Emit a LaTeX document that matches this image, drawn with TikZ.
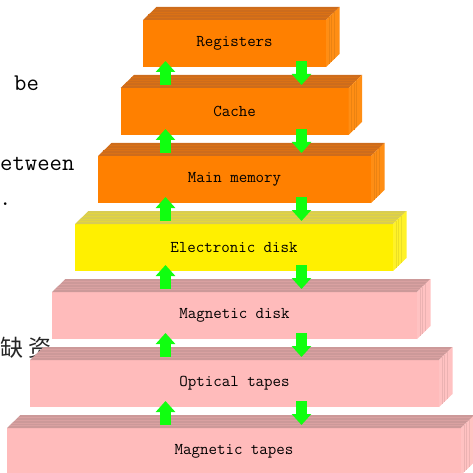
\documentclass[tikz,border=0pt]{standalone}
\usepackage{fontspec}
\newfontfamily\cjkfont{Noto Sans CJK SC}
\usetikzlibrary{arrows.meta,calc}
\definecolor{orfront}{RGB}{255,128,0}
\definecolor{ortop}{RGB}{205,108,28}
\definecolor{orside}{RGB}{255,142,20}
\definecolor{yefront}{RGB}{255,240,0}
\definecolor{yetop}{RGB}{216,204,84}
\definecolor{yeside}{RGB}{255,242,40}
\definecolor{pkfront}{RGB}{255,187,187}
\definecolor{pktop}{RGB}{204,153,153}
\definecolor{pkside}{RGB}{255,194,194}
\definecolor{arrgreen}{RGB}{16,255,16}
\tikzset{
  level/.style={minimum height=47pt, inner sep=0pt, outer sep=0pt,
    font=\ttfamily\fontsize{16.5pt}{18pt}\selectfont, text=black},
  uparr/.style={arrgreen, line width=11pt, -{Triangle[width=19pt,length=11pt]}},
  downarr/.style={arrgreen, line width=11pt, -{Triangle[width=19pt,length=11pt]}},
  sidetext/.style={font=\ttfamily\fontsize{24pt}{26pt}\selectfont, text=black, inner sep=0pt, anchor=base west}
}
% draw top and side faces of a box node
\newcommand{\boxfaces}[4]{% node, top colour, side colour, front colour
  \fill[#2] (#1.north west) -- ++(13.5pt,13pt) -- ($(#1.north east)+(13.5pt,13pt)$) -- (#1.north east) -- cycle;
  \foreach \f in {0.2,0.4,0.6,0.8}{
    \draw[#2!75!#4, line width=0.6pt] ($(#1.north west)+(13.5*\f pt,13*\f pt)$) -- ($(#1.north east)+(13.5*\f pt,13*\f pt)$);
  }
  \fill[#3] (#1.north east) -- ++(13.5pt,13pt) -- ($(#1.south east)+(13.5pt,13pt)$) -- (#1.south east) -- cycle;
  \foreach \f in {0.2,0.4,0.6}{
    \draw[#3!92!black, line width=0.4pt] ($(#1.north east)+(13.5*\f pt,13*\f pt)$) -- ($(#1.south east)+(13.5*\f pt,13*\f pt)$);
  }
}
\begin{document}
\begin{tikzpicture}[x=1pt,y=-1pt]
\useasboundingbox (0,0) rectangle (472,473);
% fragments of surrounding text
\node[sidetext] (t1) at (14,91) {be};
\node[sidetext] (t2) at (0,171) {etween};
\node[sidetext] (t3) at (-1,205) {.};
\node[inner sep=0pt, anchor=west, font=\cjkfont\fontsize{23pt}{25pt}\selectfont, text=black!85] (t4) at (0,348) {缺 资};
% levels
\node[level, fill=orfront, minimum width=183pt] (reg) at (234.5,43.5) {Registers};
\node[level, fill=orfront, minimum width=228pt] (cache) at (234.5,111.5) {Cache};
\node[level, fill=orfront, minimum width=273pt] (mm) at (234.5,179.5) {Main memory};
\node[level, fill=yefront, minimum width=318pt] (ed) at (234,247.5) {Electronic disk};
\node[level, fill=pkfront, minimum width=365pt] (md) at (234.5,315.5) {Magnetic disk};
\node[level, fill=pkfront, minimum width=409pt] (ot) at (234.5,383.5) {Optical tapes};
\node[level, fill=pkfront, minimum width=454pt] (mt) at (234,451.5) {Magnetic tapes};
\boxfaces{reg}{ortop}{orside}{orfront}
\boxfaces{cache}{ortop}{orside}{orfront}
\boxfaces{mm}{ortop}{orside}{orfront}
\boxfaces{ed}{yetop}{yeside}{yefront}
\boxfaces{md}{pktop}{pkside}{pkfront}
\boxfaces{ot}{pktop}{pkside}{pkfront}
\boxfaces{mt}{pktop}{pkside}{pkfront}
% arrows
\coordinate (ux) at (165.5,0);
\coordinate (dx) at (301.5,0);
\foreach \lo/\hi in {cache/reg, mm/cache, ed/mm, md/ed, ot/md, mt/ot}{
  \draw[uparr] ([yshift=3pt]ux |- \lo.north) -- ([yshift=6pt]ux |- \hi.south);
  \draw[downarr] ([yshift=6pt]dx |- \hi.south) -- ([yshift=3pt]dx |- \lo.north);
}
\end{tikzpicture}
\end{document}
